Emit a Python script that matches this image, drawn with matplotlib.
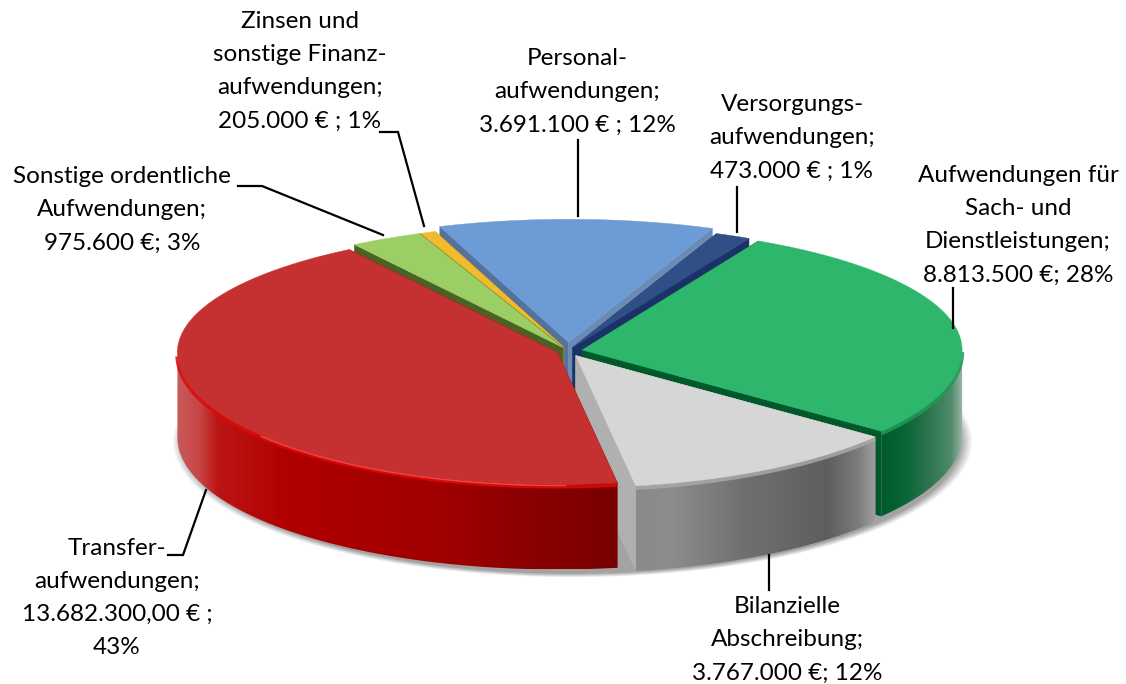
#!/usr/bin/env python3
"""Exploded 3D-look pie of the Aufwendungen, drawn in pixel coordinates."""

import numpy as np
import matplotlib.pyplot as plt
from matplotlib.colors import LinearSegmentedColormap
from matplotlib.patches import Polygon

plt.rcParams['font.family'] = ['Lato', 'DejaVu Sans']

names = ['Personal', 'Zinsen', 'Sonstige', 'Versorgung', 'Sach', 'Bilanz', 'Transfer']
values = [3691100, 205000, 975600, 473000, 8813500, 3767000, 13682300]

# clockwise order round the pie, starting at Personal
clock_order = ['Personal', 'Versorgung', 'Sach', 'Bilanz', 'Transfer', 'Sonstige', 'Zinsen']
start_angle = -19.8

top_colors = {'Personal': '#6d9bd6', 'Zinsen': '#f0bb2c', 'Sonstige': '#9ccf63',
              'Versorgung': '#2f4f86', 'Sach': '#2eb66c', 'Bilanz': '#d6d6d6',
              'Transfer': '#c53031'}
wall_left = {'Personal': '#54729c', 'Zinsen': '#8f7a20', 'Sonstige': '#4a6325',
             'Versorgung': '#1c3168', 'Sach': '#00592b', 'Bilanz': '#b0b0b0',
             'Transfer': '#8c0000'}
wall_right = {'Personal': '#6a8cb4'}
explode = {'Personal': 0.066, 'Zinsen': 0.03, 'Sonstige': 0.03, 'Versorgung': 0.03,
           'Sach': 0.038, 'Bilanz': 0.04, 'Transfer': 0.03}
gradients = {
    'Transfer': [(0, '#c85a5a'), (.05, '#c84444'), (.09, '#bc1515'), (.25, '#b00000'),
                 (.6, '#a00000'), (.78, '#8e0000'), (1, '#780000')],
    'Sach': [(0, '#005a2c'), (.3, '#0a6636'), (.6, '#2f7550'), (.85, '#4f8a6a'), (1, '#9ab8a8')],
    'Bilanz': [(0, '#8a8a8a'), (.15, '#8c8c8c'), (.45, '#707070'), (.8, '#5e5e5e'),
               (.93, '#7d7d7d'), (1, '#a0a0a0')],
}
rim_colors = {'Transfer': '#dd0a0a', 'Sach': '#1f9a58', 'Bilanz': '#a8a8a8'}

labels = [
    ('Zinsen und\nsonstige Finanz-\naufwendungen;\n205.000 € ; 1%', 300, 71),
    ('Personal-\naufwendungen;\n3.691.100 € ; 12%', 577, 92),
    ('Versorgungs-\naufwendungen;\n473.000 € ; 1%', 792, 138),
    ('Aufwendungen für\nSach- und\nDienstleistungen;\n8.813.500 €; 28%', 1018, 225),
    ('Bilanzielle\nAbschreibung;\n3.767.000 €; 12%', 787, 640),
    ('Transfer-\naufwendungen;\n13.682.300,00 € ;\n43%', 117, 598),
    ('Sonstige ordentliche\nAufwendungen;\n975.600 €; 3%', 122, 210),
]
leaders = [
    ([238, 262, 383], [186, 186, 235]),
    ([380, 398, 424], [132, 132, 226]),
    ([578, 578], [140, 216]),
    ([737, 737], [187, 232]),
    ([953, 953], [288, 328]),
    ([769, 769], [555, 590]),
    ([168, 183, 206], [555, 555, 490]),
]

CX, CY = 568, 351
RX, RY_BACK, RY_FRONT = 380, 123, 132
DEPTH = 85


def rim(apex, deg):
    t = np.radians(np.asarray(deg, dtype=float))
    ry = np.where(np.cos(t) > 0, RY_BACK, RY_FRONT)
    return apex[0] + RX * np.sin(t), apex[1] - ry * np.cos(t)


def gradient_fill(ax, xs, ys, stops, z):
    cmap = LinearSegmentedColormap.from_list('g', stops)
    poly = Polygon(np.column_stack([xs, ys]), closed=True, fc='none', ec='none',
                   transform=ax.transData)
    ax.add_patch(poly)
    im = ax.imshow(np.linspace(0, 1, 512)[None, :], cmap=cmap, aspect='auto',
                   extent=(min(xs), max(xs), max(ys), min(ys)), zorder=z,
                   interpolation='bilinear')
    im.set_clip_path(poly)


fig = plt.figure(figsize=(11.26, 6.84), dpi=100)
ax = fig.add_axes([0, 0, 1, 1])

# soft shadow under the pie
yy, xx = np.mgrid[380:600, 150:1000]
d = np.hypot((xx - 572) / 400, (yy - 441) / 136)
shade = np.zeros(d.shape + (4,))
shade[..., :3] = 0.55
shade[..., 3] = np.clip((1 - d) / 0.03, 0, 1) * 0.8
ax.imshow(shade, extent=(150, 1000, 600, 380), aspect='auto', zorder=0)

val = dict(zip(names, values))
total = sum(values)
spans = {}
a = start_angle
for n in clock_order:
    spans[n] = (a, a + 360 * val[n] / total)
    a = spans[n][1]

# back to front so each slice hides what should not show of the one before
z = 2
for n in ['Personal', 'Zinsen', 'Sonstige', 'Versorgung', 'Sach', 'Bilanz', 'Transfer']:
    a0, a1 = spans[n]
    mid = np.radians((a0 + a1) / 2)
    e = explode[n]
    apex = (CX + e * RX * np.sin(mid), CY - e * RY_FRONT * np.cos(mid))
    arc = np.linspace(a0, a1, 120)
    rx_pts, ry_pts = rim(apex, arc)

    # cut faces
    for ang, col in [(a0, wall_left[n]), (a1, wall_right.get(n, wall_left[n]))]:
        ex, ey = rim(apex, ang)
        ax.add_patch(Polygon([(apex[0], apex[1]), (ex, ey), (ex, ey + DEPTH),
                              (apex[0], apex[1] + DEPTH)], fc=col, ec=col, lw=0.3, zorder=z))
    z += 1

    # outer wall, only the front part faces the viewer
    if n in gradients:
        front = arc[(arc >= 90) & (arc <= 270)]
        fx, fy = rim(apex, front)
        xs = np.r_[fx, fx[::-1]]
        ys = np.r_[fy, fy[::-1] + DEPTH]
        gradient_fill(ax, xs, ys, gradients[n], z)
        z += 1
        ax.plot(fx, fy + 2, color=rim_colors[n], lw=3, alpha=0.85, zorder=z,
                solid_capstyle='butt')
        if n == 'Transfer':
            hi = front[(front > 178) & (front < 232)]
            hx, hy = rim(apex, hi)
            ax.plot(hx, hy + 1, color='#ee4444', lw=1.2, zorder=z)
        z += 1

    ax.add_patch(Polygon(np.column_stack([np.r_[apex[0], rx_pts], np.r_[apex[1], ry_pts]]),
                         closed=True, fc=top_colors[n], ec=top_colors[n], lw=0.3, zorder=z))
    z += 1

for lx, ly in leaders:
    ax.plot(lx, ly, color='black', lw=1.6, zorder=z, solid_joinstyle='miter')

for text, x, y in labels:
    ax.text(x, y, text, ha='center', va='center', fontsize=17.5, color='black',
            linespacing=1.72, zorder=z + 1)

ax.set_xlim(0, 1126)
ax.set_ylim(684, 0)
ax.axis('off')
fig.savefig('out.png', dpi=100)
